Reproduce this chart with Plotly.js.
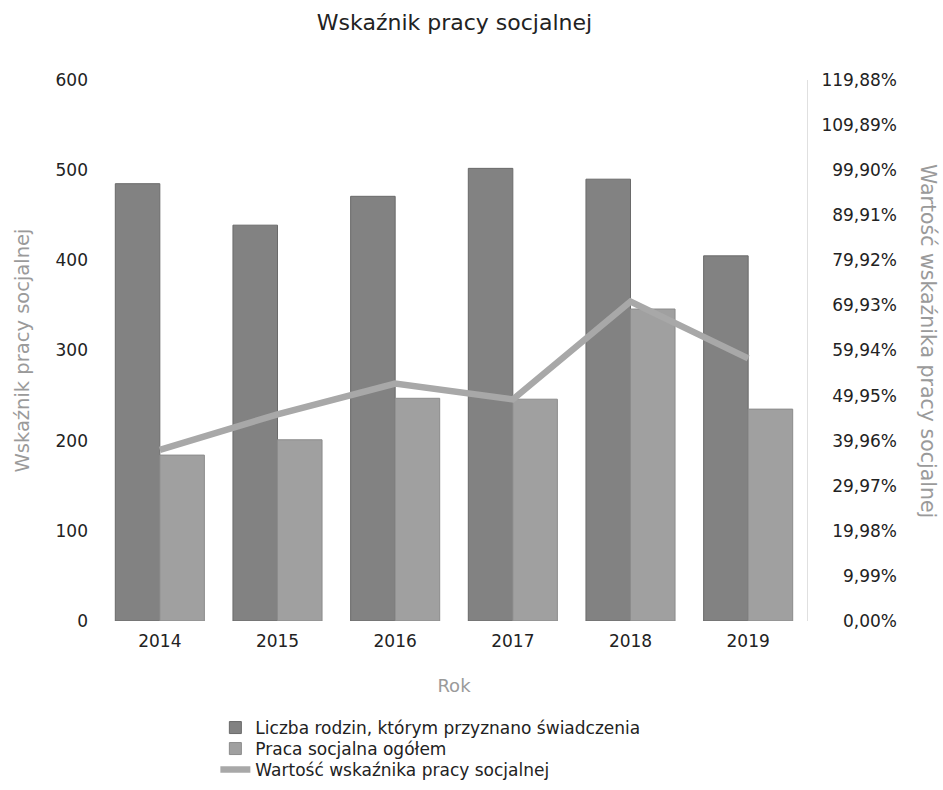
<!DOCTYPE html>
<html>
<head>
<meta charset="utf-8">
<script src="https://cdn.plot.ly/plotly-3.0.1.min.js"></script>
<style>html,body{margin:0;padding:0;background:#fff;}#chart{width:943px;height:790px;}</style>
</head>
<body>
<div id="chart"></div>
<script>
const years = ['2014', '2015', '2016', '2017', '2018', '2019'];
const liczbaRodzin = [485, 439, 471, 502, 490, 405];
const pracaSocjalna = [184, 201, 247, 246, 346, 235];
const wskaznik = [37.9, 45.8, 52.6, 49.1, 70.8, 58.2];
const rightTickVals = [0, 9.99, 19.98, 29.97, 39.96, 49.95, 59.94, 69.93, 79.92, 89.91, 99.90, 109.89, 119.88];
const rightTickText = ['\u2007\u20070,00%', '\u2007\u20079,99%', '\u200719,98%', '\u200729,97%', '\u200739,96%', '\u200749,95%', '\u200759,94%', '\u200769,93%', '\u200779,92%', '\u200789,91%', '\u200799,90%', '109,89%', '119,88%'];

const FONT = 'DejaVu Sans, Verdana, sans-serif';

const traces = [
  {
    type: 'bar', name: 'Liczba rodzin, którym przyznano świadczenia',
    x: years, y: liczbaRodzin, legend: 'legend',
    marker: {color: '#828282', line: {color: '#6a6a6a', width: 1}}
  },
  {
    type: 'bar', name: 'Praca socjalna ogółem',
    x: years, y: pracaSocjalna, legend: 'legend2',
    marker: {color: '#a0a0a0', line: {color: '#8c8c8c', width: 1}}
  },
  {
    type: 'scatter', mode: 'lines', name: 'Wartość wskaźnika pracy socjalnej',
    x: years, y: wskaznik, yaxis: 'y2', legend: 'legend3',
    line: {color: '#a8a8a8', width: 6.5}
  }
];

function legendAt(yc) {
  return {orientation: 'v', x: 0.162, xanchor: 'left', y: yc, yanchor: 'middle',
          font: {size: 17, color: '#222'}, itemwidth: 30, bgcolor: 'rgba(0,0,0,0)'};
}

const layout = {
  width: 943, height: 790,
  margin: {l: 101, r: 136, t: 80, b: 169, autoexpand: false},
  paper_bgcolor: '#fff', plot_bgcolor: '#fff',
  font: {family: FONT, color: '#222', size: 17},
  title: {text: 'Wskaźnik pracy socjalnej', font: {size: 22, color: '#222'}, x: 0.482, xanchor: 'center', y: 0.972, yanchor: 'middle'},
  barmode: 'group', bargap: 0.243, bargroupgap: 0,
  showlegend: true,
  legend: legendAt(-0.1978),
  legend2: legendAt(-0.2366),
  legend3: legendAt(-0.2754),
  xaxis: {
    type: 'category', showgrid: false, zeroline: false, showline: false, ticks: '',
    automargin: false, ticklabelstandoff: 8,
    tickfont: {size: 17, color: '#222'},
    title: {text: 'Rok', font: {size: 18, color: '#9a9a9a'}, standoff: 29}
  },
  yaxis: {
    range: [0, 600], dtick: 100, showgrid: false, zeroline: false, showline: false, ticks: '',
    automargin: false, ticklabelstandoff: 12,
    tickfont: {size: 17, color: '#222'},
    title: {text: 'Wskaźnik pracy socjalnej', font: {size: 19.5, color: '#9a9a9a'}, standoff: 20}
  },
  yaxis2: {
    overlaying: 'y', side: 'right', range: [0, 119.88],
    tickvals: rightTickVals, ticktext: rightTickText,
    showgrid: false, zeroline: false, showline: true, linecolor: '#e0e0e0', linewidth: 1, ticks: '',
    automargin: false, ticklabelstandoff: 10,
    tickfont: {size: 17, color: '#222'}
  },
  annotations: [{
    text: 'Wartość wskaźnika pracy socjalnej', textangle: 90,
    xref: 'paper', yref: 'paper', x: 1.1714, y: 0.5176, xanchor: 'center', yanchor: 'middle',
    showarrow: false, font: {size: 20.5, color: '#9a9a9a'}
  }]
};

Plotly.newPlot('chart', traces, layout, {displayModeBar: false, staticPlot: true});
</script>
</body>
</html>
